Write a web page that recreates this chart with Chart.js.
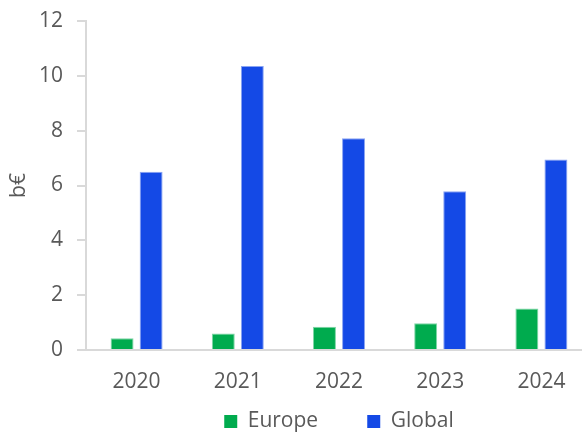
<html>
    <head>
        <title>Europe vs Global</title>
        <style>
            body { margin: 0; overflow: hidden; background: #fff; }
        </style>
    </head>
    <body>
        <canvas id="chart" width="592" height="432"></canvas>
        <script src="https://cdn.jsdelivr.net/npm/chart.js@4/dist/chart.umd.min.js"></script>
        <script>
            const years = ['2020', '2021', '2022', '2023', '2024']
            const europe = [0.43, 0.60, 0.85, 0.98, 1.51]
            const global = [6.50, 10.36, 7.72, 5.79, 6.95]
            const yTicks = [0, 2, 4, 6, 8, 10, 12]

            const font = "'Open Sans', 'DejaVu Sans', sans-serif"
            const grey = '#595959'
            const lineGrey = '#d9d9d9'
            const gap = '\u00a0'.repeat(9)

            new Chart(document.getElementById('chart'), {
                type: 'bar',
                data: {
                    labels: years,
                    datasets: [
                        {
                            label: 'Europe',
                            data: europe,
                            backgroundColor: '#00ab4e',
                            borderColor: '#7fd5a6',
                            borderWidth: 1,
                            categoryPercentage: 0.574,
                            barPercentage: 0.79
                        },
                        {
                            label: 'Global',
                            data: global,
                            backgroundColor: '#1449e6',
                            borderColor: '#8aa4f2',
                            borderWidth: 1,
                            categoryPercentage: 0.574,
                            barPercentage: 0.79
                        }
                    ]
                },
                options: {
                    responsive: false,
                    animation: false,
                    layout: { padding: { left: 0, right: 0, top: 21, bottom: -10 } },
                    plugins: {
                        tooltip: { enabled: false },
                        legend: {
                            position: 'bottom',
                            fullSize: false,
                            labels: {
                                font: { family: font, size: 21 },
                                color: grey,
                                boxWidth: 13,
                                boxHeight: 13,
                                padding: 0,
                                // spacing after the first entry, as in the original
                                generateLabels: chart => chart.data.datasets.map((ds, i) => ({
                                    text: i === 0 ? ds.label + gap : ds.label,
                                    fillStyle: ds.backgroundColor,
                                    strokeStyle: ds.backgroundColor,
                                    lineWidth: 0,
                                    fontColor: grey,
                                    datasetIndex: i
                                }))
                            }
                        }
                    },
                    scales: {
                        x: {
                            grid: { display: false },
                            border: { color: lineGrey, width: 2 },
                            ticks: { font: { family: font, size: 21 }, color: grey, padding: 11 },
                            afterFit: s => { s.height = 61 }
                        },
                        y: {
                            min: 0,
                            max: 12,
                            afterBuildTicks: s => { s.ticks = yTicks.map(v => ({ value: v })) },
                            grid: { drawOnChartArea: false, drawTicks: true, tickLength: 9, color: lineGrey, lineWidth: 2 },
                            border: { color: lineGrey, width: 2 },
                            ticks: { font: { family: font, size: 21, lineHeight: 0.6 }, color: grey, padding: 14 },
                            title: { display: true, text: 'b€', font: { family: font, size: 21 }, color: grey, padding: 6 },
                            afterFit: s => { s.width = 86 }
                        }
                    }
                }
            })
        </script>
    </body>
</html>
